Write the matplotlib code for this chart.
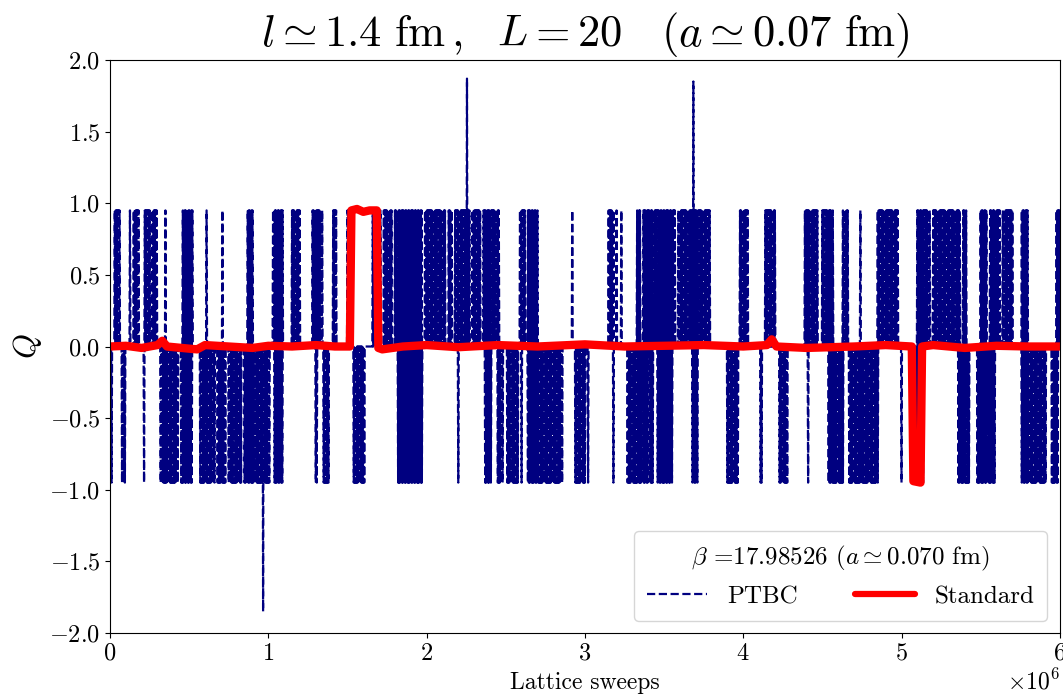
import numpy as np
import matplotlib
matplotlib.use("Agg")
import matplotlib.pyplot as plt

plt.rcParams["font.family"] = "serif"
plt.rcParams["font.serif"] = ["cmr10", "DejaVu Serif"]
plt.rcParams["mathtext.fontset"] = "cm"
plt.rcParams["axes.formatter.use_mathtext"] = True

# Monte Carlo histories of the topological charge (sweeps in units of 1e6)
record_step = 0.006  # one stored measurement every 6e3 sweeps
q_level = 0.95

# PTBC: stretches where the charge keeps tunnelling to +1 / -1
ptbc_up_runs = [(0.03, 0.063), (0.126, 0.126), (0.15, 0.18), (0.22, 0.25),
                (0.265, 0.30), (0.35, 0.35), (0.46, 0.52), (0.61, 0.61),
                (0.71, 0.71), (0.87, 0.90), (1.03, 1.09), (1.15, 1.20),
                (1.28, 1.34), (1.41, 1.43), (1.50, 1.53), (1.66, 1.71),
                (1.73, 1.78), (1.80, 1.97), (1.99, 2.12), (2.14, 2.16),
                (2.18, 2.27), (2.29, 2.34), (2.36, 2.46), (2.59, 2.62),
                (2.64, 2.70), (2.92, 2.92), (3.15, 3.18), (3.20, 3.20),
                (3.23, 3.23), (3.33, 3.35), (3.37, 3.57), (3.59, 3.79),
                (3.98, 4.03), (4.14, 4.20), (4.39, 4.47), (4.50, 4.57),
                (4.63, 4.66), (4.74, 4.74), (4.85, 4.98), (5.10, 5.18),
                (5.20, 5.37), (5.39, 5.41), (5.50, 5.54), (5.56, 5.62),
                (5.64, 5.70), (5.76, 5.80), (5.98, 6.00)]
ptbc_down_runs = [(0.01, 0.01), (0.076, 0.095), (0.215, 0.215), (0.32, 0.43),
                  (0.45, 0.52), (0.57, 0.66), (0.68, 0.73), (0.75, 0.83),
                  (0.85, 0.96), (0.97, 1.01), (1.04, 1.09), (1.30, 1.31),
                  (1.35, 1.38), (1.54, 1.61), (1.82, 1.97), (2.20, 2.20),
                  (2.37, 2.41), (2.45, 2.48), (2.51, 2.58), (2.60, 2.60),
                  (2.64, 2.86), (2.94, 3.00), (3.02, 3.02), (3.18, 3.18),
                  (3.27, 3.40), (3.41, 3.43), (3.46, 3.55), (3.68, 3.71),
                  (3.90, 3.97), (4.11, 4.12), (4.23, 4.28), (4.41, 4.41),
                  (4.54, 4.63), (4.67, 4.85), (5.00, 5.00), (5.07, 5.14),
                  (5.36, 5.43), (5.48, 5.59), (5.76, 5.91), (5.95, 5.99)]
ptbc_spikes = [(0.967, -1.85), (2.255, 1.87), (3.685, 1.85)]

# Standard algorithm: frozen near Q = 0 apart from two tunnelling events
std_sweeps = [0.0, 0.10, 0.20, 0.30, 0.33, 0.36, 0.50, 0.55, 0.60, 0.75, 0.90,
              1.00, 1.15, 1.30, 1.42, 1.515, 1.525, 1.56, 1.60, 1.64, 1.685,
              1.695, 1.72, 1.85, 2.00, 2.20, 2.45, 2.70, 3.00, 3.25, 3.50,
              3.75, 4.00, 4.15, 4.18, 4.21, 4.40, 4.70, 4.90, 5.065, 5.075,
              5.12, 5.13, 5.20, 5.40, 5.60, 5.80, 6.00]
std_charge = [0.0, 0.005, -0.01, 0.01, 0.04, 0.0, -0.015, -0.02, 0.01, 0.0,
              -0.01, 0.005, 0.0, 0.01, 0.0, 0.0, 0.95, 0.96, 0.94, 0.95, 0.95,
              -0.01, -0.02, 0.0, 0.01, -0.005, 0.01, 0.0, 0.015, 0.0, 0.005,
              0.01, 0.0, 0.01, 0.05, 0.0, -0.01, 0.0, 0.01, 0.0, -0.94,
              -0.95, 0.0, 0.01, -0.01, 0.005, 0.0, 0.0]

# stack every record of the PTBC chain as a short excursion from zero
spikes = []
for runs, lv in ((ptbc_up_runs, q_level), (ptbc_down_runs, -q_level)):
    for s, e in runs:
        for t in np.arange(s, e + 1e-9, record_step):
            spikes.append((t, lv))
spikes += ptbc_spikes
spikes.sort()

h = record_step / 2
ptbc_x, ptbc_q = [0.0], [0.0]
for t, lv in spikes:
    ptbc_x += [t - h, t, t + h]
    ptbc_q += [0.0, lv, 0.0]
ptbc_x.append(6.0)
ptbc_q.append(0.0)

fig = plt.figure(figsize=(10.63, 6.96), dpi=100)
ax = fig.add_axes([0.1035, 0.0905, 0.8935, 0.8233])

ax.plot(np.array(ptbc_x) * 1e6, ptbc_q, "--", color="navy", lw=1.6, label="PTBC")
ax.plot(np.array(std_sweeps) * 1e6, std_charge, "-", color="red", lw=6,
        label="Standard", solid_capstyle="round", solid_joinstyle="round")

ax.set_xlim(0, 6e6)
ax.set_ylim(-2, 2)
ax.set_yticks(np.arange(-2, 2.01, 0.5))
ax.tick_params(labelsize=17.5)
ax.xaxis.get_offset_text().set_fontsize(17)

ax.set_title(r"$l \simeq 1.4\ \mathrm{fm}\,,\ \ L=20\ \ \ (a \simeq 0.07\ \mathrm{fm})$",
             fontsize=32, pad=6)
ax.set_ylabel(r"$Q$", fontsize=23, labelpad=4)
ax.set_xlabel("Lattice sweeps", fontsize=17, labelpad=5)

leg = ax.legend(loc="lower right", ncol=2, fontsize=18, title_fontsize=18,
                title=r"$\beta$ =17.98526 ($a \simeq 0.070$ fm)",
                handlelength=2.4, columnspacing=2.3, borderpad=0.5)
leg.legend_handles[1].set_linewidth(4.5)

fig.savefig("out.png", dpi=100)
